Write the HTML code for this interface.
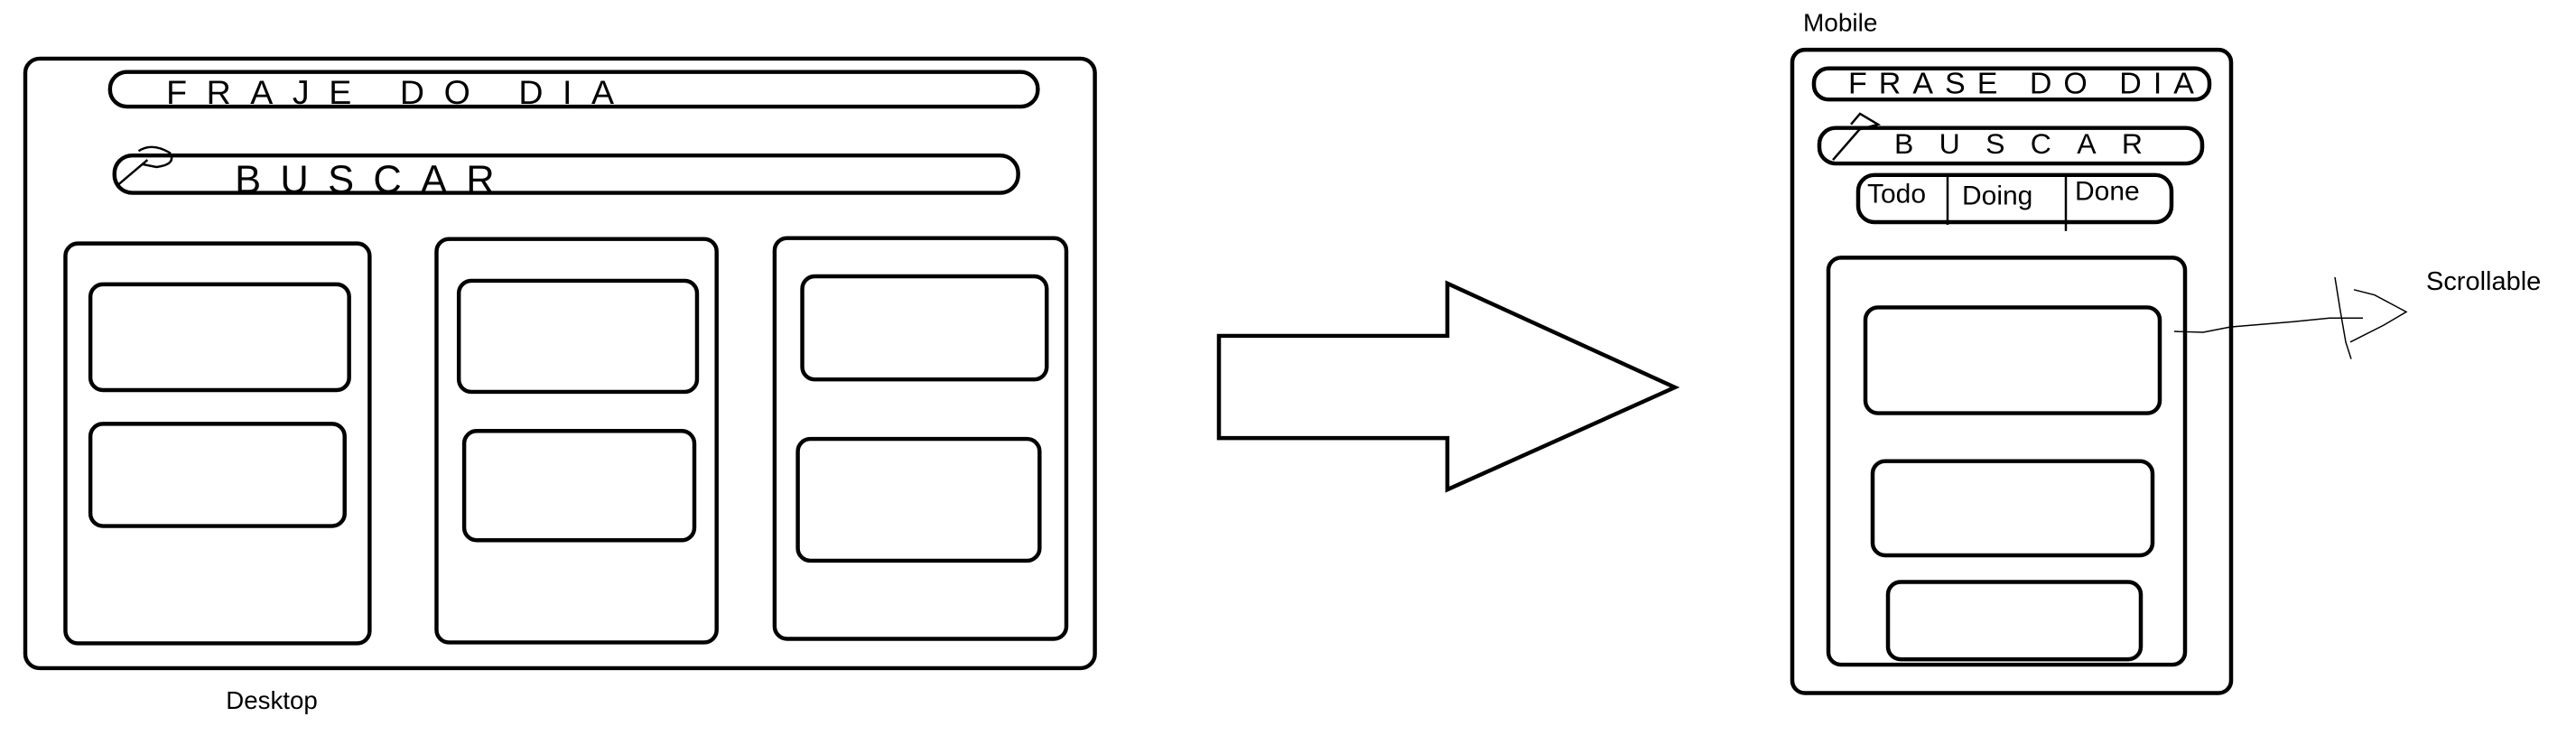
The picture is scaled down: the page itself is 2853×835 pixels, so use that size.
<!DOCTYPE html>
<html><head><meta charset="utf-8"><style>
html,body{margin:0;padding:0;background:#fff;}
svg{display:block;}
</style></head><body>
<svg width="2853" height="835" viewBox="0 0 2853 835" xmlns="http://www.w3.org/2000/svg">
<g transform="scale(1,0.984)">
<g transform="translate(28,0) scale(0.988,1) translate(-28,0)">
<g fill="none" stroke="#000" stroke-width="4.5">
<rect x="28" y="66" width="1199" height="686" rx="16"/>
<rect x="123" y="81" width="1040" height="39" rx="19"/>
<rect x="128" y="175" width="1013" height="42" rx="20"/>
<rect x="73" y="274" width="341" height="450" rx="14"/>
<rect x="101" y="320" width="290" height="119" rx="14"/>
<rect x="101" y="477" width="285" height="115" rx="14"/>
<rect x="489" y="269" width="314" height="454" rx="14"/>
<rect x="514" y="316" width="267" height="125" rx="14"/>
<rect x="520" y="485" width="258" height="123" rx="14"/>
<rect x="868" y="268" width="327" height="451" rx="14"/>
<rect x="899" y="311" width="274" height="116" rx="14"/>
<rect x="894" y="494" width="271" height="137" rx="14"/>
</g>
<path d="M132,208 L165,180 M155,170 Q170,160 190,172 Q198,185 175,188 L160,185" fill="none" stroke="#000" stroke-width="2.5"/>
<g font-family="Liberation Sans, sans-serif" fill="#000">
<text x="253" y="798" font-size="28">Desktop</text>
<text x="186" y="117" font-size="38" textLength="502" lengthAdjust="spacing">FRAJE DO DIA</text>
<text x="263" y="217" font-size="44" textLength="291" lengthAdjust="spacing">BUSCAR</text>
</g>
</g>
<g fill="none" stroke="#000" stroke-width="4.5">
<polygon points="1350,378 1603,378 1603,319 1855,436 1603,551 1603,493 1350,493"/>
<rect x="1985" y="56" width="486" height="724" rx="14"/>
<rect x="2009" y="77" width="438" height="35" rx="16"/>
<rect x="2015" y="144" width="424" height="40" rx="18"/>
<rect x="2058" y="197" width="347" height="53" rx="18"/>
<rect x="2025" y="290" width="395" height="458" rx="14"/>
<rect x="2066" y="346" width="326" height="119" rx="14"/>
<rect x="2074" y="519" width="310" height="106" rx="14"/>
<rect x="2091" y="655" width="280" height="87" rx="14"/>
</g>
<g fill="none" stroke="#000" stroke-width="2.5">
<line x1="2157" y1="197" x2="2157" y2="253"/>
<line x1="2288" y1="197" x2="2288" y2="260"/>
<path d="M2030,180 L2060,145 M2050,140 L2060,128 L2080,140 L2058,146"/>
</g>
<g fill="none" stroke="#000" stroke-width="1.5">
<polyline points="2408,373 2440,374 2470,368 2540,362 2580,358 2617,358"/>
<polyline points="2607,326 2630,332 2665,351 2640,366 2603,385"/>
<polyline points="2586,312 2592,350 2598,385 2604,404"/>
</g>
<g font-family="Liberation Sans, sans-serif" fill="#000">
<text x="1997" y="35" font-size="28">Mobile</text>
<text x="2687" y="326" font-size="29">Scrollable</text>
<text x="2068" y="228" font-size="30">Todo</text>
<text x="2173" y="230" font-size="30">Doing</text>
<text x="2298" y="225" font-size="30">Done</text>
<text x="2047" y="105" font-size="34" textLength="383" lengthAdjust="spacing">FRASE DO DIA</text>
<text x="2098" y="173" font-size="32" textLength="275" lengthAdjust="spacing">BUSCAR</text>
</g>
</g>
</svg>
</body></html>
